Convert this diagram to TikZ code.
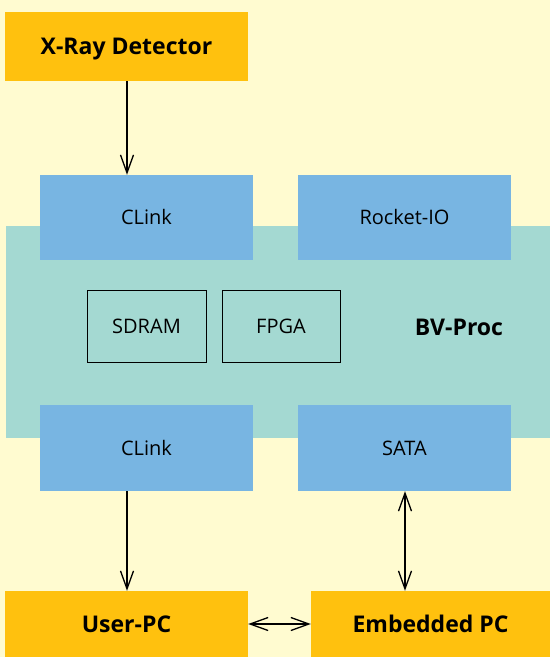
\documentclass[tikz,border=0pt]{standalone}
\usepackage{fontspec}
\setmainfont{Open Sans}
\usetikzlibrary{arrows.meta}
\definecolor{bgyellow}{HTML}{FFFBD0}
\definecolor{pcorange}{HTML}{FFC10E}
\definecolor{ifblue}{HTML}{78B5E2}
\definecolor{procteal}{HTML}{A4D9D2}
\tikzset{
  boldtext/.style={text height=16.5pt, text depth=0pt, font=\bfseries\fontsize{23}{26}\selectfont},
  plaintext/.style={text height=14.4pt, text depth=0pt, font=\fontsize{20}{23}\selectfont},
  pcbox/.style={fill=pcorange, inner sep=0pt, boldtext},
  ifbox/.style={fill=ifblue, inner sep=0pt, plaintext},
  chipbox/.style={draw=black, line width=0.9pt, inner sep=0pt, plaintext},
  link/.style={line width=1.3pt, -{Straight Barb[length=18pt,width=13pt,line width=1.3pt]}},
  dlink/.style={line width=1.3pt, {Straight Barb[length=18pt,width=13pt,line width=1.3pt]}-{Straight Barb[length=18pt,width=13pt,line width=1.3pt]}}
}
\begin{document}
\begin{tikzpicture}[x=1pt,y=-1pt]
    \fill[bgyellow] (0,0) rectangle (550,657);
    \useasboundingbox (0,0) rectangle (550,657);

    % processor board
    \fill[procteal] (6,226) rectangle (550,438);
    \node[boldtext] (bvproc) at (459,327) {BV-Proc};

    % pcs
    \node[pcbox, minimum width=243pt, minimum height=69pt] (xray) at (126.5,46.5) {X-Ray Detector};
    \node[pcbox, minimum width=243pt, minimum height=66pt] (userpc) at (126.5,624) {User-PC};
    \node[pcbox, minimum width=239pt, minimum height=66pt] (embpc) at (430.5,624) {Embedded PC};

    % interfaces
    \node[ifbox, minimum width=213pt, minimum height=85pt] (clinkin) at (146.5,217.5) {CLink};
    \node[ifbox, minimum width=213pt, minimum height=85pt] (rocketio) at (404.5,217.5) {Rocket-IO};
    \node[ifbox, minimum width=213pt, minimum height=86pt] (clinkout) at (146.5,448) {CLink};
    \node[ifbox, minimum width=213pt, minimum height=86pt] (sata) at (404.5,448) {SATA};

    % chips
    \node[chipbox, minimum width=119pt, minimum height=72pt] (sdram) at (146.5,326) {SDRAM};
    \node[chipbox, minimum width=118pt, minimum height=72pt] (fpga) at (281,326) {FPGA};

    % connections
    \draw[link] (xray.south -| 127,0) -- (clinkin.north -| 127,0);
    \draw[link] (clinkout.south -| 127,0) -- (userpc.north -| 127,0);
    \draw[dlink] (sata.south -| 405,0) -- (embpc.north -| 405,0);
    \draw[dlink] (userpc.east) -- (embpc.west);
\end{tikzpicture}
\end{document}
